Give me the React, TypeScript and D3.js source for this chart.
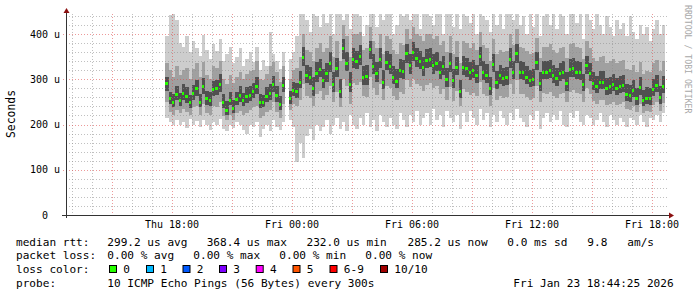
import React from 'react';
import * as d3 from 'd3';

// ---- data (microseconds), one column per 10 minutes starting Thu 17:40 ----
const med = [
  291,258,250,268,255,270,262,250,270,280, 250,284,258,255,278,280,290,250,232,255,
  237,256,265,254,262,266,273,285,250,250, 263,270,290,265,245,288,
  null,
  258,276,273,295,350,309,305,280,313,322, 298,313,335,290,324,275,368,336,290,345,
  340,351,306,307,366,330,313,344,295,339, 330,306,297,320,319,357,331,361,346,340,
  328,343,345,331,337,317,329,300,335,298, 328,273,328,325,315,320,309,351,317,310,
  281,334,295,309,302,306,345,317,357,317, 315,306,298,300,339,291,317,317,320,309,
  302,313,317,291,322,324,317,315,290,331, 313,292,285,295,295,280,284,290,280,285,
  287,267,265,276,258,282,254,259,258,278, 287,261,285
];
const hi = [
  395,442,450,430,380,372,395,360,385,370, 352,398,365,345,378,362,390,340,355,372,
  335,350,368,330,345,360,338,372,320,342, 330,405,355,340,322,360,
  null,
  345,360,395,460,455,430,405,460,440,415, 460,425,455,400,445,460,430,470,410,450,
  460,440,395,420,460,450,415,460,430,445, 460,400,420,455,440,470,430,460,445,410,
  455,460,440,420,460,450,400,445,460,415, 450,410,460,440,425,455,400,470,440,430,
  405,460,420,445,410,455,460,430,470,420, 440,400,455,415,460,395,440,450,420,445,
  410,455,440,400,450,460,425,445,390,455, 430,410,445,420,400,440,415,395,430,410,
  425,395,440,405,390,420,400,415,385,410, 430,400,420
];
const lo = [
  215,205,200,210,198,205,192,212,200,208, 195,210,200,188,205,198,212,190,185,200,
  192,205,198,188,178,200,195,205,172,190, 200,185,210,195,188,205,
  null,
  210,195,118,160,125,175,190,165,200,185, 195,210,180,200,215,190,205,185,220,200,
  190,215,200,225,195,210,185,220,205,195, 215,200,190,225,210,195,220,205,230,200,
  215,225,200,235,210,220,195,230,215,205, 220,190,225,205,230,215,200,235,210,225,
  195,220,205,230,215,200,225,210,235,215, 205,195,220,210,230,190,215,225,205,220,
  210,230,200,195,225,215,230,205,200,220, 215,200,210,225,205,195,220,210,200,215,
  205,195,215,210,200,220,205,195,215,210, 220,205,225
];
const mlo = [
  250,228,222,232,225,235,228,220,238,240, 222,245,225,220,240,238,250,218,210,222,
  210,225,230,222,225,232,238,240,215,218, 228,232,250,228,215,245,
  null,
  232,245,240,255,290,262,258,240,268,275, 255,265,285,250,272,238,300,285,245,292,
  288,295,262,260,305,280,265,290,255,285, 280,262,255,272,268,298,282,300,290,285,
  275,288,292,280,284,268,278,255,282,252, 275,240,278,272,265,270,262,295,268,262,
  240,280,255,262,258,260,290,268,298,268, 268,260,255,258,285,250,270,268,272,262,
  258,268,270,250,272,276,270,268,250,280, 268,252,245,255,254,242,246,250,242,246,
  250,235,232,240,228,245,225,230,228,242, 250,230,248
];
const mhi = [
  335,320,305,330,310,320,325,300,322,335, 305,338,310,300,330,325,340,300,290,310,
  292,305,315,300,312,318,320,340,300,298, 312,330,338,315,295,330,
  null,
  300,320,325,350,400,365,360,340,370,380, 360,370,395,350,385,340,420,395,350,400,
  400,405,365,370,415,385,370,400,355,395, 390,365,355,380,375,410,390,415,400,395,
  385,400,400,390,395,375,385,360,395,355, 385,335,385,380,370,380,365,405,375,368,
  340,390,355,365,360,362,400,375,410,372, 370,362,355,358,392,348,372,372,378,365,
  358,370,372,348,378,380,372,370,345,385, 368,348,340,350,352,335,340,345,335,340,
  342,322,320,332,315,338,312,318,316,335, 342,318,340
];
const clo = [
  275,245,238,255,240,255,248,236,255,262, 238,268,244,240,262,265,272,236,222,242,
  225,242,250,240,248,252,258,268,236,238, 250,255,272,250,232,272,
  null,
  245,262,258,280,330,292,288,262,295,305, 280,295,315,272,305,258,345,318,272,325,
  322,332,288,288,345,312,295,325,278,320, 312,290,280,302,300,335,312,340,328,322,
  308,325,326,312,318,300,310,282,316,280, 310,258,310,305,298,302,292,330,298,292,
  265,315,278,290,285,288,325,300,335,300, 298,290,282,284,320,275,300,300,302,292,
  286,296,300,275,305,306,300,298,274,312, 296,276,270,278,279,265,268,274,265,270,
  272,252,250,260,244,266,240,245,244,262, 272,246,270
];
const chi = [
  305,272,268,285,270,290,282,266,288,298, 268,302,275,272,296,298,312,268,252,272,
  255,272,285,270,282,284,292,305,268,266, 282,290,308,285,262,305,
  null,
  275,295,292,318,372,332,328,305,338,345, 322,336,360,315,348,300,390,360,315,368,
  362,375,330,332,385,355,338,368,320,362, 355,330,322,345,342,378,355,382,370,362,
  350,366,368,355,360,340,352,325,358,322, 350,298,352,348,338,342,332,372,340,333,
  305,356,318,332,325,328,368,340,378,340, 338,330,320,322,360,315,340,340,342,332,
  325,336,340,315,345,347,340,338,312,352, 336,315,308,318,318,302,306,312,302,308,
  310,290,288,298,280,304,276,282,280,300, 310,284,308
];

const yTickValues = [0, 100, 200, 300, 400];
const yLabels = ['0', '100', '200', '300', '400'];
const rttLegend = ['299.2 us avg', '368.4 us max', '232.0 us min', '285.2 us now', '0.0 ms sd', '9.8', 'am/s'];
const lossLegend = ['0.00 % avg', '0.00 % max', '0.00 % min', '0.00 % now'];
const lossLabels = ['0', '1', '2', '3', '4', '5', '6-9', '10/10'];
const lossColors = ['#26ff00', '#00b8ff', '#0059ff', '#7e00ff', '#ff00ff', '#ff5500', '#ff0000', '#a10000'];
const probeText = '10 ICMP Echo Pings (56 Bytes) every 300s';
const stampText = 'Fri Jan 23 18:44:25 2026';

const START = new Date(2026, 0, 22, 12, 42);
const END = new Date(2026, 0, 23, 18, 51);
const FIRST = new Date(2026, 0, 22, 17, 40);
const STEP_MIN = 10;
const Y_MAX = 444.2;

// layout
const PL = 66, PR = 669, PT = 14, PB = 215;
const rttX = [107.3, 206.7, 306.5, 407.5, 507.3, 587.3, 627.3];
const lossX = [107.3, 193.3, 279.3, 365.3];
const boxX = [109, 146, 182.5, 219, 255.7, 292.5, 329.5, 380];
const LEG_FONT = 11.1;

export default function App() {
  const x = d3.scaleTime().domain([START, END]).range([PL, PR]);
  const y = d3.scaleLinear().domain([0, Y_MAX]).range([PB, PT]);

  const cols = med.map((m, i) => {
    const t0 = d3.timeMinute.offset(FIRST, i * STEP_MIN);
    const t1 = d3.timeMinute.offset(FIRST, (i + 1) * STEP_MIN);
    return { i, x0: Math.round(x(t0)), x1: Math.round(x(t1)) };
  }).filter(c => med[c.i] != null);

  const layers: [any[], any[], string][] = [
    [lo, hi, '#cdcdcd'],
    [mlo, mhi, '#a0a0a0'],
    [clo, chi, '#505050'],
  ];

  const hours = d3.timeHour.range(d3.timeHour.ceil(START), END);
  const minorY = d3.range(20, Y_MAX, 20).filter(v => v % 100 !== 0);
  const fmt = d3.timeFormat('%a %H:%M');

  const gridMinor = 'rgba(140,140,140,0.55)';
  const gridMajor = 'rgba(222,70,70,0.55)';
  const py = (v: number) => Math.round(y(v)) + 0.5;
  const px = (d: Date) => Math.round(x(d)) + 0.5;

  const legY = [245.6, 259.2, 273, 286.8];

  return (
    <svg width={697} height={297} style={{ position: 'absolute', left: 0, top: 0, background: '#fff' }}
      fontFamily="'DejaVu Sans Mono', monospace">
      <defs>
        <clipPath id="plotclip"><rect x={PL} y={PT} width={PR - PL} height={PB - PT} /></clipPath>
      </defs>
      <rect x={0} y={0} width={697} height={297} fill="#fff" />
      {/* smoke */}
      <g clipPath="url(#plotclip)" shapeRendering="crispEdges">
        {layers.map(([a, b, col], li) => (
          <g key={li} fill={col}>
            {cols.map(c => (
              <rect key={c.i} x={c.x0} width={c.x1 - c.x0}
                y={y(b[c.i])} height={y(a[c.i]) - y(b[c.i])} />
            ))}
          </g>
        ))}
      </g>
      {/* grid */}
      <g strokeDasharray="1 2" strokeWidth={1} fill="none">
        {minorY.map(v => (
          <line key={'my' + v} x1={PL} x2={PR} y1={py(v)} y2={py(v)} stroke={gridMinor} />
        ))}
        {hours.filter(h => h.getHours() % 3 !== 0).map(h => (
          <line key={'mx' + +h} x1={px(h)} x2={px(h)} y1={PT} y2={PB} stroke={gridMinor} />
        ))}
        {yTickValues.slice(1).map(v => (
          <line key={'My' + v} x1={PL - 3} x2={PR} y1={py(v)} y2={py(v)} stroke={gridMajor} />
        ))}
        {hours.filter(h => h.getHours() % 3 === 0).map(h => (
          <line key={'Mx' + +h} x1={px(h)} x2={px(h)} y1={PT} y2={PB + 3} stroke={gridMajor} />
        ))}
      </g>
      {/* median */}
      <g fill="#26ff00" shapeRendering="crispEdges">
        {cols.map(c => (
          <rect key={c.i} x={c.x0} width={Math.max(2, c.x1 - c.x0 - 1)} y={Math.round(y(med[c.i] as number)) - 1} height={3} />
        ))}
      </g>
      {/* axes */}
      <g shapeRendering="crispEdges" stroke="#333" strokeWidth={1}>
        <line x1={PL + 0.5} x2={PL + 0.5} y1={PB + 3} y2={11} />
        <line x1={PL - 4} x2={PR + 1} y1={PB + 0.5} y2={PB + 0.5} />
      </g>
      <polygon points={`${PL + 0.5},8 ${PL - 2.5},13 ${PL + 3.5},13`} fill="#8b1010" />
      <polygon points={`${PR + 5},${PB + 0.5} ${PR},${PB - 2.5} ${PR},${PB + 3.5}`} fill="#8b1010" />
      {/* y labels */}
      <g fontSize={10} fill="#000">
        {yTickValues.map((v, i) => (
          <g key={v}>
            <text x={48} y={y(v) + 3.6} textAnchor="end">{yLabels[i]}</text>
            {v !== 0 && <text x={54} y={y(v) + 3.6}>u</text>}
          </g>
        ))}
      </g>
      {/* x labels */}
      <g fontSize={10} fill="#000" textAnchor="middle">
        {hours.filter(h => h.getHours() % 6 === 0).map(h => (
          <text key={+h} x={x(h)} y={227.5}>{fmt(h)}</text>
        ))}
      </g>
      <text transform="translate(15,114) rotate(-90)" textAnchor="middle" fontSize={11.4} fill="#000">Seconds</text>
      <text transform="translate(684.5,5) rotate(90)" fontSize={8.2} fill="#a8a8a8">RRDTOOL / TOBI OETIKER</text>
      {/* legend */}
      <g fontSize={LEG_FONT} fill="#000">
        <text x={16} y={legY[0]}>median rtt:</text>
        {rttLegend.map((s, i) => <text key={'r' + i} x={rttX[i]} y={legY[0]}>{s}</text>)}
        <text x={16} y={legY[1]}>packet loss:</text>
        {lossLegend.map((s, i) => <text key={'l' + i} x={lossX[i]} y={legY[1]}>{s}</text>)}
        <text x={16} y={legY[2]}>loss color:</text>
        {lossLabels.map((s, i) => (
          <g key={'c' + i}>
            <rect x={boxX[i] + 0.5} y={265.5} width={7} height={7} fill={lossColors[i]} stroke="#000" strokeWidth={1} />
            <text x={boxX[i] + 14.3} y={legY[2]}>{s}</text>
          </g>
        ))}
        <text x={16} y={legY[3]}>probe:</text>
        <text x={107.3} y={legY[3]}>{probeText}</text>
        <text x={513.3} y={legY[3]}>{stampText}</text>
      </g>
    </svg>
  );
}
